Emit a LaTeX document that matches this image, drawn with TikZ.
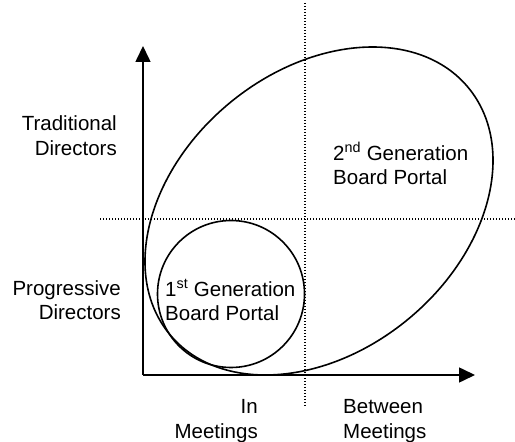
\documentclass[tikz,border=0pt]{standalone}
\usepackage{fontspec}
\setmainfont{Liberation Sans}
\usetikzlibrary{arrows.meta}
\begin{document}
\begin{tikzpicture}[x=1pt,y=1pt,
  axis/.style={line width=1.6pt,-{Triangle[length=16pt,width=15pt]}},
  shape line/.style={line width=1.6pt},
  grid line/.style={line width=1.3pt,dash pattern=on 1.2pt off 1.8pt},
  label text/.style={inner sep=0pt,font=\fontsize{20.5}{24.5}\selectfont}]
\useasboundingbox (0,0) rectangle (515,442);
% axes
\coordinate (O) at (143,67);
\coordinate (ytip) at (143,396);
\coordinate (xtip) at (475,67);
\draw[axis] (O) -- (ytip);
\draw[axis] (O) -- (xtip);
% quadrant dividers
\coordinate (hl) at (100,223);
\coordinate (hr) at (515,223);
\coordinate (vt) at (305,439);
\coordinate (vb) at (305,36);
\draw[grid line] (hl) -- (hr);
\draw[grid line] (vt) -- (vb);
% portal generations
\draw[shape line] (231,148) circle[radius=73.5];
\draw[shape line,rotate around={39.55:(319,231)}] (319,231) ellipse[x radius=193.7,y radius=140.2];
% labels
\node[label text,anchor=east,align=right] (trad) at (117,306.5) {Traditional\\Directors};
\node[label text,anchor=east,align=right] (prog) at (121,142) {Progressive\\Directors};
\node[label text,anchor=west,align=left] (gen1) at (165,142) {1\textsuperscript{st} Generation\\Board Portal};
\node[label text,anchor=west,align=left] (gen2) at (333,278.5) {2\textsuperscript{nd} Generation\\Board Portal};
\node[label text,anchor=east,align=right] (inm) at (258,21) {In\\Meetings};
\node[label text,anchor=west,align=left] (betm) at (343,21) {Between\\Meetings};
\end{tikzpicture}
\end{document}
